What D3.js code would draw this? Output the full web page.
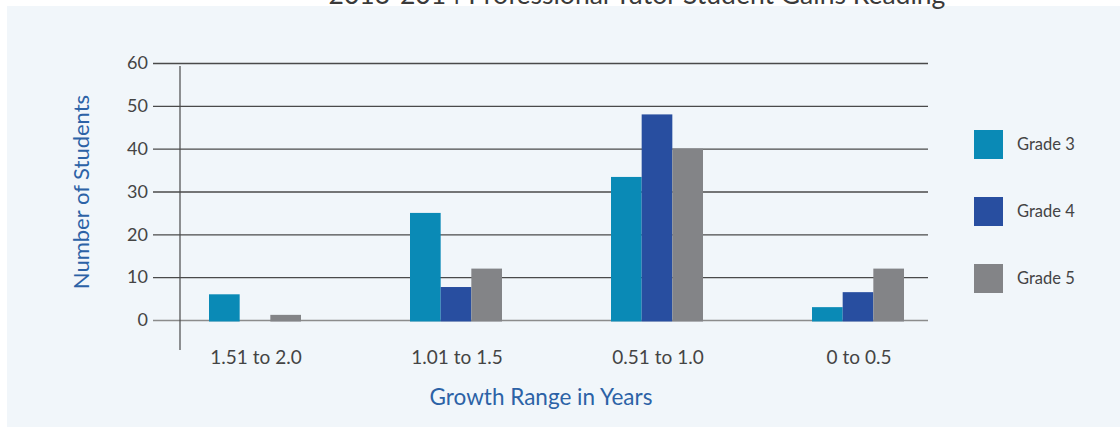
<!DOCTYPE html>
<html>
<head>
<meta charset="utf-8">
<script src="https://cdn.jsdelivr.net/npm/d3@7"></script>
<style>
  body { margin: 0; background: #ffffff; }
  svg { display: block; font-family: Lato, "Open Sans", sans-serif; }
</style>
</head>
<body>
<div id="chart-area"></div>
<script>
// data
var categories = ["1.51 to 2.0", "1.01 to 1.5", "0.51 to 1.0", "0 to 0.5"];
var grades = ["Grade 3", "Grade 4", "Grade 5"];
var grade3 = [6, 25, 33.4, 3];
var grade4 = [0, 7.7, 48, 6.5];
var grade5 = [1.2, 12, 40, 12];
var yTicks = [0, 10, 20, 30, 40, 50, 60];

var colors = ["#0a8ab6", "#284ea0", "#838487"];
var series = [grade3, grade4, grade5];

var completeWidth = 1120,
	completeHeight = 427;

var svg = d3.select("#chart-area")
	.append("svg")
		.attr("width", completeWidth)
		.attr("height", completeHeight);

//= light panel behind the chart
svg.append("rect")
	.attr("x", 7)
	.attr("y", 6)
	.attr("width", completeWidth - 7)
	.attr("height", completeHeight - 6)
	.attr("fill", "#f1f6fa");

// title (cut off at the top in the original too)
svg.append("text")
	.attr("x", 637)
	.attr("y", 4)
	.attr("text-anchor", "middle")
	.attr("font-size", "26.5px")
	.attr("fill", "#3a3a3a")
	.text("2013-2014 Professional Tutor Student Gains Reading");

// Scales
var y = d3.scaleLinear()
	.domain([0, 60])
	.range([320, 63]);

//- group centres
var x0 = d3.scalePoint()
	.domain(categories)
	.range([255, 858]);

//- bars inside a group
var x1 = d3.scaleBand()
	.domain(grades)
	.range([-46, 46]);

// Gridlines + y tick labels
var yAxisCall = d3.axisLeft(y)
	.tickValues(yTicks)
	.tickSize(-775)
	.tickPadding(5)
	.tickFormat(d3.format("d"));
var yAxis = svg.append("g")
	.attr("class", "y axis")
	.attr("transform", "translate(153,0)")
	.call(yAxisCall);
yAxis.select(".domain").remove();
yAxis.selectAll(".tick line")
	.attr("stroke", function(d){ return d === 0 ? "#8c8c8c" : "#4a4a4a"; })
	.attr("stroke-width", 1.4);
yAxis.selectAll(".tick text")
	.attr("font-size", "18px")
	.attr("fill", "#444")
	.attr("font-family", "Lato, sans-serif");

//= vertical axis line
svg.append("line")
	.attr("x1", 180).attr("x2", 180)
	.attr("y1", 66).attr("y2", 350)
	.attr("stroke", "#4a4a4a")
	.attr("stroke-width", 1.2);

// Bars
var groups = svg.selectAll(".group")
	.data(categories)
	.enter().append("g")
		.attr("class", "group")
		.attr("transform", function(d){ return "translate(" + x0(d) + ",0)"; });

groups.selectAll("rect")
	.data(function(d, i){
		return grades.map(function(g, j){ return { grade: g, value: series[j][i], color: colors[j] }; });
	})
	.enter().append("rect")
		.filter(function(d){ return d.value > 0; })
		.attr("x", function(d){ return x1(d.grade); })
		.attr("width", x1.bandwidth())
		.attr("y", function(d){ return y(d.value); })
		.attr("height", function(d){ return y(0) - y(d.value) + 1.5; })
		.attr("fill", function(d){ return d.color; });

// x category labels
svg.selectAll(".cat")
	.data(categories)
	.enter().append("text")
		.attr("class", "cat")
		.attr("x", function(d){ return x0(d) + 1; })
		.attr("y", 364)
		.attr("text-anchor", "middle")
		.attr("font-size", "19px")
		.attr("fill", "#444")
		.text(function(d){ return d; });

// Labels
svg.append("text")
	.attr("x", 541)
	.attr("y", 405)
	.attr("text-anchor", "middle")
	.attr("font-size", "22.5px")
	.attr("fill", "#2c62a6")
	.text("Growth Range in Years");
svg.append("text")
	.attr("transform", "translate(89,192) rotate(-90)")
	.attr("text-anchor", "middle")
	.attr("font-size", "22px")
	.attr("fill", "#2c62a6")
	.text("Number of Students");

// Legend
var legend = svg.selectAll(".legend")
	.data(grades)
	.enter().append("g")
		.attr("class", "legend")
		.attr("transform", function(d, i){ return "translate(974," + (130 + i * 67) + ")"; });
legend.append("rect")
	.attr("width", 29)
	.attr("height", 29)
	.attr("fill", function(d, i){ return colors[i]; });
legend.append("text")
	.attr("x", 43)
	.attr("y", 20)
	.attr("font-size", "16.5px")
	.attr("fill", "#444")
	.text(function(d){ return d; });
</script>
</body>
</html>
